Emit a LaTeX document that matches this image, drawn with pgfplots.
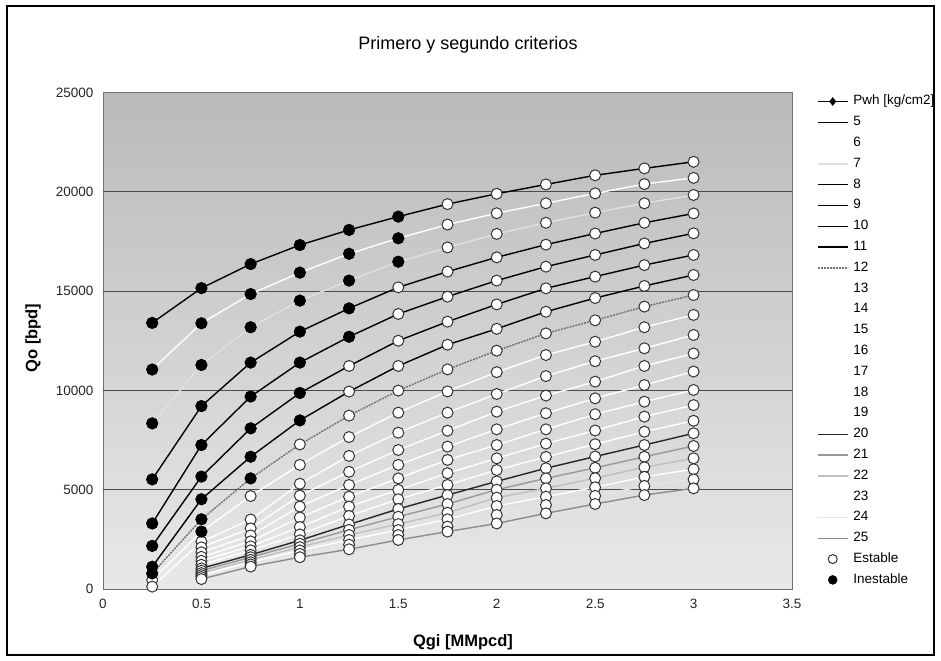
\documentclass[border=0pt]{standalone}
\usepackage{pgfplots}
\usepackage{pgfplotstable}
\pgfplotsset{compat=1.18}
\usepackage{fontspec}
\setmainfont{Liberation Sans}

\pgfplotstableread{
x s5 s6 s7 s8 s9 s10 s11 s12 s13 s14 s15 s16 s17 s18 s19 s20 s21 s22 s23 s24 s25
0.25 13400 11050 8340 5520 3300 2170 1120 780 450 120 nan nan nan nan nan nan nan nan nan nan nan
0.5 15150 13380 11280 9210 7250 5660 4520 3510 2890 2380 2100 1850 1620 1420 1220 1040 920 800 700 600 500
0.75 16360 14850 13180 11400 9690 8090 6660 5570 4680 3500 3050 2700 2400 2150 1950 1720 1600 1470 1350 1240 1130
1 17320 15930 14520 12960 11400 9870 8490 7280 6250 5300 4700 4150 3600 3120 2750 2450 2280 2110 1940 1770 1600
1.25 18080 16880 15530 14130 12700 11230 9940 8730 7650 6700 5900 5240 4650 4150 3680 3250 2980 2720 2470 2230 2000
1.5 18750 17660 16480 15190 13850 12500 11230 9990 8880 7870 7000 6250 5570 4990 4520 4030 3640 3270 2970 2720 2470
1.75 19380 18350 17200 15980 14720 13460 12300 11060 9950 8880 7970 7170 6500 5830 5240 4730 4280 3840 3510 3140 2890
2 19900 18920 17880 16700 15530 14330 13100 12000 10920 9820 8930 8040 7250 6580 5990 5420 5000 4600 4180 3730 3300
2.25 20370 19420 18440 17340 16230 15140 13960 12870 11780 10720 9740 8850 8040 7320 6650 6080 5570 5070 4650 4230 3810
2.5 20830 19920 18950 17900 16820 15730 14650 13530 12450 11470 10440 9600 8800 7980 7290 6670 6100 5580 5120 4690 4280
2.75 21180 20390 19420 18440 17400 16310 15260 14220 13180 12120 11230 10270 9430 8680 7920 7250 6660 6130 5650 5190 4730
3 21510 20700 19840 18910 17910 16820 15810 14800 13800 12790 11860 10950 10020 9260 8470 7840 7200 6580 6030 5520 5070
}\data

\pgfplotsset{
  ser/.style={no markers, line width=1.4bp, solid},
  estable/.style={only marks, mark=*, mark size=5.5bp, mark options={fill=white, draw=black!80, line width=1bp, solid}},
  inestable/.style={only marks, mark=*, mark size=5.5bp, mark options={fill=black, draw=black, line width=1bp, solid}},
}

\begin{document}
\begin{tikzpicture}
\path[use as bounding box] (-103bp,-72bp) rectangle (838bp,589bp);
\begin{axis}[
  at={(0bp,0bp)}, anchor=south west,
  scale only axis, width=689bp, height=496.5bp,
  xmin=0, xmax=3.5, ymin=0, ymax=25000,
  xtick={0,0.5,1,1.5,2,2.5,3,3.5},
  ytick={0,5000,10000,15000,20000,25000},
  extra y ticks={5000,10000,15000,20000},
  extra y tick labels={},
  extra y tick style={grid=major},
  major grid style={black!70, line width=0.9bp},
  major tick length=0pt,
  scaled y ticks=false,
  /pgf/number format/1000 sep={},
  /pgf/number format/assume math mode=true,
  tick label style={font=\fontsize{13.5bp}{16bp}\selectfont, text=black!85},
  xticklabel style={yshift=-7bp},
  yticklabel style={xshift=-6bp},
  axis line style={black!55, line width=0.7bp},
  axis background/.style={shade, top color=black!27, bottom color=black!9},
  clip=false,
  legend cell align=left,
  legend style={at={(1.0363,0.995)}, anchor=north west, draw=none, fill=none,
    inner sep=0pt, outer sep=0pt, font=\fontsize{13.5bp}{16bp}\selectfont,
    row sep=7.8bp, nodes={inner sep=0bp, text height=10bp, text depth=3bp},
    /tikz/every odd column/.append style={column sep=5bp}},
  legend image code/.code={\draw[mark repeat=2,mark phase=2,#1] plot coordinates {(0bp,0bp) (15bp,0bp) (30bp,0bp)};},
]
\addlegendimage{black, line width=1.2bp, mark=diamond*, mark size=3.5bp}
\addlegendentry{Pwh [kg/cm2]}
\addplot[ser, black] table[x=x,y=s5]{\data}; \addlegendentry{5}
\addplot[ser, white] table[x=x,y=s6]{\data}; \addlegendentry{6}
\addplot[ser, black!12] table[x=x,y=s7]{\data}; \addlegendentry{7}
\addplot[ser, black] table[x=x,y=s8]{\data}; \addlegendentry{8}
\addplot[ser, black] table[x=x,y=s9]{\data}; \addlegendentry{9}
\addplot[ser, black] table[x=x,y=s10]{\data}; \addlegendentry{10}
\addplot[ser, black] table[x=x,y=s11]{\data}; \addlegendentry{11}
\addplot[ser, black!55, dash pattern=on 2bp off 1bp] table[x=x,y=s12]{\data}; \addlegendentry{12}
\addplot[ser, white] table[x=x,y=s13]{\data}; \addlegendentry{13}
\addplot[ser, white] table[x=x,y=s14]{\data}; \addlegendentry{14}
\addplot[ser, white] table[x=x,y=s15]{\data}; \addlegendentry{15}
\addplot[ser, white] table[x=x,y=s16]{\data}; \addlegendentry{16}
\addplot[ser, white] table[x=x,y=s17]{\data}; \addlegendentry{17}
\addplot[ser, white] table[x=x,y=s18]{\data}; \addlegendentry{18}
\addplot[ser, white] table[x=x,y=s19]{\data}; \addlegendentry{19}
\addplot[ser, black!85] table[x=x,y=s20]{\data}; \addlegendentry{20}
\addplot[ser, black!40] table[x=x,y=s21]{\data}; \addlegendentry{21}
\addplot[ser, black!25] table[x=x,y=s22]{\data}; \addlegendentry{22}
\addplot[ser, white] table[x=x,y=s23]{\data}; \addlegendentry{23}
\addplot[ser, black!10] table[x=x,y=s24]{\data}; \addlegendentry{24}
\addplot[ser, black!45] table[x=x,y=s25]{\data}; \addlegendentry{25}
\pgfplotsinvokeforeach{5,...,25}{
  \addplot[estable, forget plot] table[x=x,y=s#1]{\data};
}
\pgfplotsinvokeforeach{5,6,7}{
  \addplot[inestable, forget plot, restrict x to domain=0:1.6] table[x=x,y=s#1]{\data};
}
\pgfplotsinvokeforeach{8,9}{
  \addplot[inestable, forget plot, restrict x to domain=0:1.3] table[x=x,y=s#1]{\data};
}
\pgfplotsinvokeforeach{10,11}{
  \addplot[inestable, forget plot, restrict x to domain=0:1.1] table[x=x,y=s#1]{\data};
}
\addplot[inestable, forget plot, restrict x to domain=0:0.8] table[x=x,y=s12]{\data};
\addplot[inestable, forget plot, restrict x to domain=0.4:0.6] table[x=x,y=s13]{\data};
\addlegendimage{only marks, mark=*, mark size=4.5bp, mark options={fill=white, draw=black!80, line width=1bp}}
\addlegendentry{Estable}
\addlegendimage{only marks, mark=*, mark size=4.5bp, mark options={fill=black, draw=black}}
\addlegendentry{Inestable}
\end{axis}
\draw[black, line width=1.6bp] (-96bp,583bp) rectangle (831bp,-66bp);
\node[font=\fontsize{18bp}{21bp}\selectfont] at (365bp,544bp) {Primero y segundo criterios};
\node[font=\bfseries\fontsize{16.5bp}{19bp}\selectfont] at (360bp,-53bp) {Qgi [MMpcd]};
\node[font=\bfseries\fontsize{16.5bp}{19bp}\selectfont, rotate=90] at (-70bp,251bp) {Qo [bpd]};
\end{tikzpicture}
\end{document}
